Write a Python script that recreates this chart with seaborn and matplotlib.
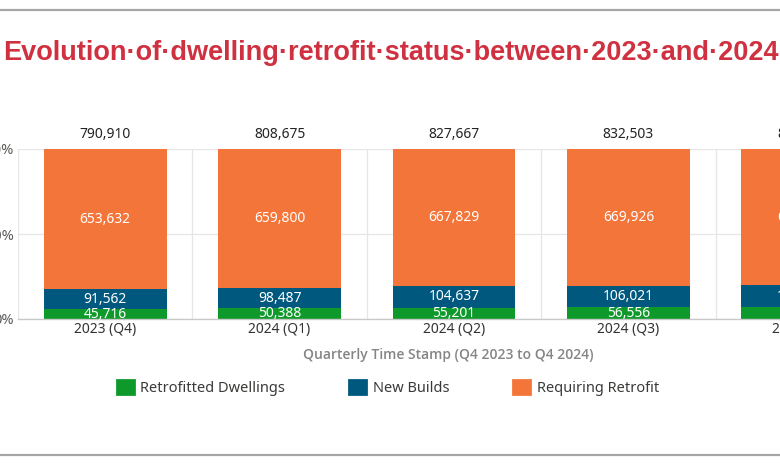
import matplotlib
matplotlib.use("Agg")
import matplotlib.pyplot as plt
from matplotlib.patches import Patch
from matplotlib.lines import Line2D
import seaborn as sns
import pandas as pd
import numpy as np

# ---- data ----
quarters = ["2023 (Q4)", "2024 (Q1)", "2024 (Q2)", "2024 (Q3)", "2024 (Q4)"]
retrofitted = [45716, 50388, 55201, 56556, 58104]
new_builds = [91562, 98487, 104637, 106021, 108870]
requiring = [653632, 659800, 667829, 669926, 672198]
series_names = ["Retrofitted Dwellings", "New Builds", "Requiring Retrofit"]
ytick_labels = ["0%", "50%", "100%"]
title_text = "Evolution·of·dwelling·retrofit·status·between·2023·and·2024"
xlabel_text = "Quarterly Time Stamp (Q4 2023 to Q4 2024)"

c_green = "#0E9A2B"
c_blue = "#00587F"
c_orange = "#F47539"
c_top = "#86C784"

df = pd.DataFrame({"quarter": quarters, "retro": retrofitted,
                   "new": new_builds, "req": requiring})
df["total"] = df["retro"] + df["new"] + df["req"]
df["f_green"] = df["retro"] / df["total"]
df["f_blue"] = (df["retro"] + df["new"]) / df["total"]
df["f_all"] = (df["retro"] + df["new"] + df["req"]) / df["total"]

sns.set_theme(style="white")
plt.rcParams["font.family"] = ["Noto Sans", "DejaVu Sans"]

W, H = 780, 470
fig = plt.figure(figsize=(W / 100, H / 100), dpi=100)
ax = fig.add_axes([18 / W, (H - 319) / H, 872 / W, 170 / H])

bw = 0.705
sns.barplot(data=df, x="quarter", y="f_all", order=quarters, color=c_orange,
            width=bw, saturation=1, ax=ax, zorder=3, linewidth=0)
sns.barplot(data=df, x="quarter", y="f_blue", order=quarters, color=c_blue,
            width=bw, saturation=1, ax=ax, zorder=3, linewidth=0)
sns.barplot(data=df, x="quarter", y="f_green", order=quarters, color=c_green,
            width=bw, saturation=1, ax=ax, zorder=3, linewidth=0)

pos = np.arange(len(quarters))
# thin top strip
ax.bar(pos, 0.007, bottom=df["f_all"], width=bw, color=c_top, zorder=3, linewidth=0)

ax.set_xlim(-0.5, len(quarters) - 0.5)
ax.set_ylim(0, 1)
ax.set_xlabel("")
ax.set_ylabel("")
ax.set_yticks([0, 0.5, 1.0])
ax.set_yticklabels(ytick_labels)
ax.tick_params(axis="y", length=0, pad=3, labelsize=10.5, labelcolor="#605E5C")
ax.tick_params(axis="x", length=0, pad=2.5, labelsize=10, labelcolor="#333333")
ax.set_xticks(pos, minor=False)
ax.set_xticks(np.arange(len(quarters) + 1) - 0.5, minor=True)
ax.grid(True, axis="y", which="major", color="#E6E6E6", lw=0.9, zorder=0)
ax.grid(True, axis="x", which="minor", color="#E6E6E6", lw=0.9, zorder=0)
ax.grid(False, axis="x", which="major")
ax.tick_params(axis="x", which="minor", length=0)
for s in ["top", "right", "left"]:
    ax.spines[s].set_visible(False)
ax.spines["bottom"].set_color("#C8C8C8")
ax.spines["bottom"].set_linewidth(1.0)
ax.spines["bottom"].set_zorder(4)

def fmt(v):
    return f"{int(v):,}"

for i, row in df.iterrows():
    ax.text(i, row["f_green"] / 2, fmt(row["retro"]), ha="center", va="center",
            color="white", fontsize=10, zorder=5)
    ax.text(i, (row["f_green"] + row["f_blue"]) / 2, fmt(row["new"]), ha="center",
            va="center", color="white", fontsize=10, zorder=5)
    ax.text(i, (row["f_blue"] + row["f_all"]) / 2, fmt(row["req"]), ha="center",
            va="center", color="white", fontsize=10, zorder=5)
    ax.annotate(fmt(row["total"]), (i, row["f_all"]), xytext=(0, 10.5),
                textcoords="offset points", ha="center", va="center",
                color="#252423", fontsize=10, zorder=5, annotation_clip=False)

# title
fig.text(3 / W, 1 - 53 / H, title_text, ha="left", va="center",
         fontsize=19.5, fontweight="bold", color="#CF3140",
         family=["Liberation Sans", "DejaVu Sans"])

# axis title
fig.text(448 / W, 1 - 355 / H, xlabel_text, ha="center", va="center",
         fontsize=10, fontweight="semibold", color="#858585",
         family=["Open Sans", "DejaVu Sans"])

# legend
handles = [Patch(facecolor=c, edgecolor=c, linewidth=2, joinstyle="round")
           for c in (c_green, c_blue, c_orange)]
fig.legend(handles, series_names, loc="center", ncol=3,
           bbox_to_anchor=(388 / W, 1 - 388 / H), frameon=False,
           fontsize=10.5, handlelength=1.15, handleheight=1.15,
           handletextpad=0.45, columnspacing=4.4, labelcolor="#3B3A39")

# document border lines
fig.add_artist(Line2D([0, 1], [1 - 10 / H, 1 - 10 / H], transform=fig.transFigure,
                      color="#A6A6A6", lw=1.6))
fig.add_artist(Line2D([0, 1], [1 - 455 / H, 1 - 455 / H], transform=fig.transFigure,
                      color="#A6A6A6", lw=1.6))

fig.savefig("out.png", dpi=100)
